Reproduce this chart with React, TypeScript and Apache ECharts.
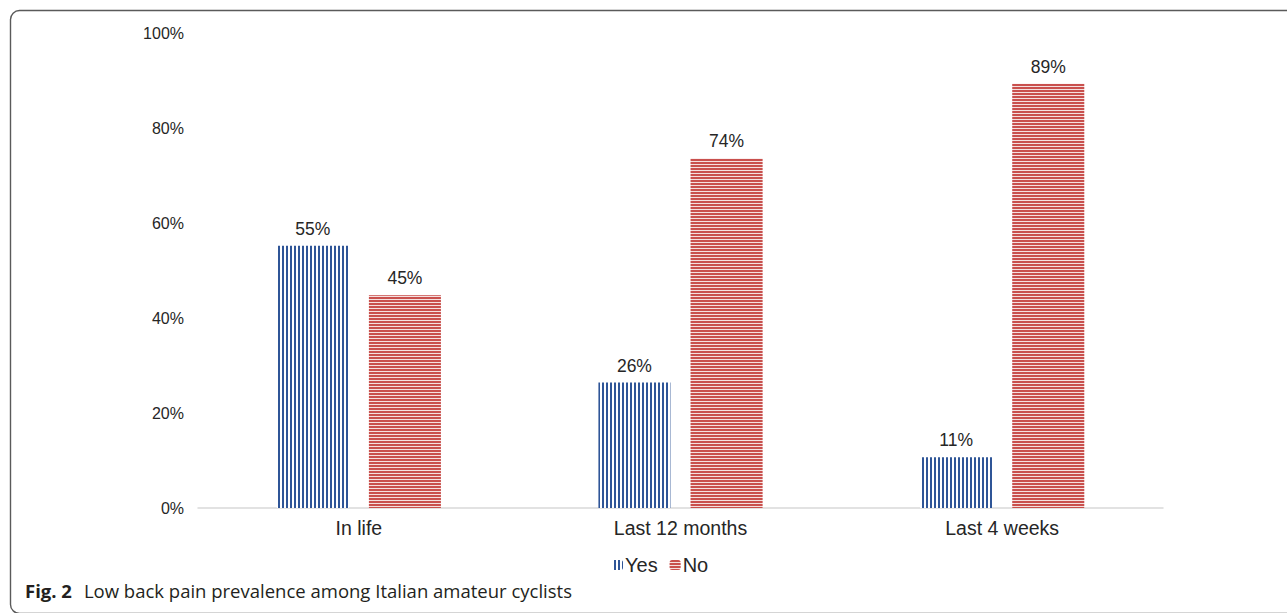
import React, { useEffect, useRef } from "react";
import * as echarts from "echarts";

const categories = ["In life", "Last 12 months", "Last 4 weeks"];
const yesValues = [55.2, 26.4, 10.7];
const noValues = [44.8, 73.6, 89.3];
const seriesNames = ["Yes", "No"];
const yTicks = { min: 0, max: 100, interval: 20 };
const captionBold = "Fig. 2";
const captionText = "Low back pain prevalence among Italian amateur cyclists";

export default function App() {
  const ref = useRef<HTMLDivElement>(null);
  useEffect(() => {
    if (!ref.current) return;
    const chart = echarts.init(ref.current, undefined, { renderer: "svg" });
    const textColor = "#262626";
    const font = "Liberation Sans, Arial, Helvetica, sans-serif";
    const labelOpt = {
      show: true,
      position: "top",
      distance: 8,
      color: textColor,
      fontSize: 17.5,
      fontFamily: font,
      formatter: (p: any) => Math.round(p.value) + "%",
    };
    chart.setOption({
      animation: false,
      backgroundColor: "#ffffff",
      grid: { left: 198, right: 124, top: 33, bottom: 105, containLabel: false },
      legend: {
        data: seriesNames,
        left: 607,
        top: 550,
        itemWidth: 11,
        itemHeight: 10,
        itemGap: 12,
        textStyle: { color: textColor, fontSize: 20, fontFamily: font, padding: [0, 0, 0, -3] },
      },
      xAxis: {
        type: "category",
        data: categories,
        axisLine: { lineStyle: { color: "#d9d9d9", width: 1.5 } },
        axisTick: { show: false },
        axisLabel: { color: textColor, fontSize: 19.5, fontFamily: font, margin: 10 },
      },
      yAxis: {
        type: "value",
        min: yTicks.min,
        max: yTicks.max,
        interval: yTicks.interval,
        axisLine: { show: false },
        axisTick: { show: false },
        splitLine: { show: false },
        axisLabel: {
          color: textColor,
          fontSize: 16,
          fontFamily: font,
          margin: 14,
          formatter: "{value}%",
        },
      },
      series: [
        {
          name: seriesNames[0],
          type: "bar",
          data: yesValues,
          barWidth: 72,
          barGap: "28%",
          itemStyle: {
            color: "#ffffff",
            decal: {
              symbol: "rect",
              symbolSize: 1,
              dashArrayX: [1, 0],
              dashArrayY: [2, 2],
              rotation: Math.PI / 2,
              color: "#2f5597",
            },
          },
          label: labelOpt,
        },
        {
          name: seriesNames[1],
          type: "bar",
          data: noValues,
          barWidth: 72,
          itemStyle: {
            color: "#f5e0df",
            decal: {
              symbol: "rect",
              symbolSize: 1,
              dashArrayX: [1, 0],
              dashArrayY: [2, 1],
              color: "#c9504d",
            },
          },
          label: labelOpt,
        },
      ],
      graphic: [
        {
          type: "rect",
          shape: { x: 10.5, y: 10.5, width: 1320, height: 603, r: 9 },
          style: { fill: "none", stroke: "#5a5a5a", lineWidth: 1.4 },
          silent: true,
        },
        {
          type: "text",
          left: 25,
          top: 581,
          style: {
            text: "{b|" + captionBold + "}{r|" + captionText + "}",
            rich: {
              b: { fontWeight: "bold", fontSize: 18.5, fontFamily: "Open Sans, Noto Sans, sans-serif", fill: "#231f20", padding: [0, 12, 0, 0] },
              r: { fontSize: 18.5, fontFamily: "Open Sans, Noto Sans, sans-serif", fill: "#231f20" },
            },
          },
        },
      ],
    });
    return () => chart.dispose();
  }, []);
  return (
    <div
      ref={ref}
      style={{ position: "absolute", left: 0, top: 0, width: 1287, height: 613 }}
    />
  );
}
